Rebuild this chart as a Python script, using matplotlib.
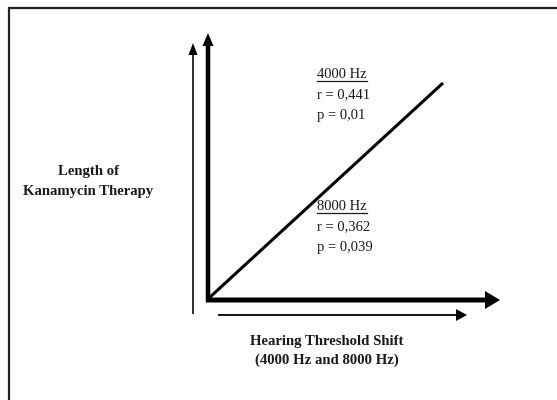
import matplotlib
matplotlib.use("Agg")
import matplotlib.pyplot as plt

# schematic positions in pixel space of the figure (557 x 400)
origin = (208, 300)
line_end = (443, 83)

y_label = ["Length of", "Kanamycin Therapy"]
x_label = ["Hearing Threshold Shift", "(4000 Hz and 8000 Hz)"]
stats_4000 = ["4000 Hz", "r = 0,441", "p = 0,01"]
stats_8000 = ["8000 Hz", "r = 0,362", "p = 0,039"]

plt.rcParams["font.family"] = ["Liberation Serif", "DejaVu Serif"]

fig = plt.figure(figsize=(5.57, 4.0), dpi=100)
ax = fig.add_axes([0, 0, 1, 1])
ax.set_xlim(0, 557)
ax.set_ylim(400, 0)
ax.axis("off")

# frame (cropped at right and bottom)
ax.plot([9, 9, 557], [400, 8, 8], color="#222222", lw=1.6, solid_joinstyle="miter")

# thick axes with arrow heads
ax.arrow(origin[0], origin[1] + 2, 0, 33 - (origin[1] + 2), width=4.5, head_width=11,
         head_length=13, length_includes_head=True, color="black", lw=0)
ax.arrow(origin[0] - 2, origin[1], 500 - (origin[0] - 2), 0, width=5, head_width=18,
         head_length=15, length_includes_head=True, color="black", lw=0)

# thin arrows next to the axes
ax.arrow(193, 314, 0, 43 - 314, width=1.6, head_width=9, head_length=12,
         length_includes_head=True, color="black", lw=0)
ax.arrow(218, 315, 467 - 218, 0, width=1.8, head_width=12, head_length=11,
         length_includes_head=True, color="black", lw=0)

# diagonal relation line
ax.plot([origin[0] + 1, line_end[0]], [origin[1] - 2, line_end[1]], color="black", lw=2.2,
        solid_capstyle="butt")

# axis labels
for i, s in enumerate(y_label):
    ax.text(88, 171 + i * 20, s, ha="center", va="center", fontsize=10.6, fontweight="bold",
            color="#1a1a1a")
for i, s in enumerate(x_label):
    ax.text(327, 341 + i * 19, s, ha="center", va="center", fontsize=10.6, fontweight="bold",
            color="#1a1a1a")

# statistics blocks
underlined = []
for block, y0 in [(stats_4000, 75), (stats_8000, 207)]:
    for i, s in enumerate(block):
        t = ax.text(317, y0 + i * 20, s, ha="left", va="center", fontsize=10.5, color="#1a1a1a")
        if i == 0:
            underlined.append(t)

fig.canvas.draw()
inv = ax.transData.inverted()
for t in underlined:
    bb = t.get_window_extent()
    (x0, yb), (x1, _) = inv.transform([[bb.x0, bb.y0], [bb.x1, bb.y1]])
    ax.plot([x0, x1], [yb - 1, yb - 1], color="#1a1a1a", lw=0.9)

fig.savefig("out.png", dpi=100)
